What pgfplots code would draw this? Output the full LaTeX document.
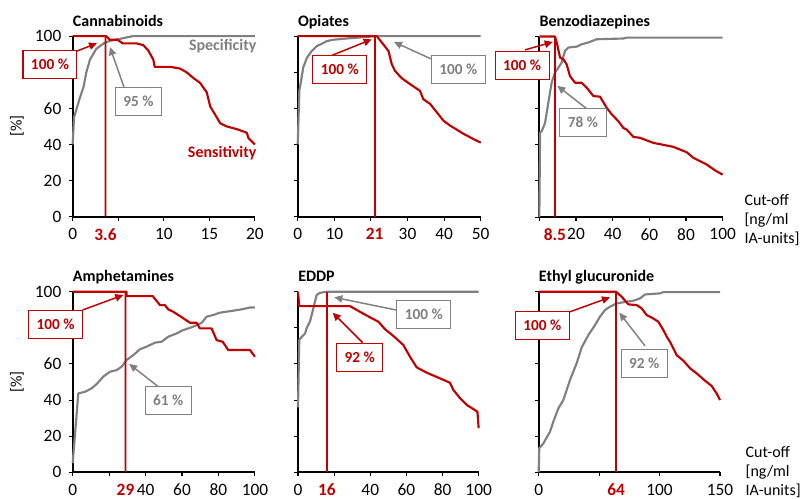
\documentclass[border=0pt]{standalone}
\usepackage{fontspec}
\setmainfont{Carlito}
\usepackage{pgfplots}
\pgfplotsset{compat=1.18}
\usetikzlibrary{arrows.meta}
\definecolor{cred}{RGB}{192,0,0}
\definecolor{cgray}{RGB}{128,128,128}
\pgfplotsset{
  panel/.style={
    scale only axis, height=135.4pt,
    anchor=south west,
    axis x line*=bottom, axis y line*=left,
    axis line style={-, line width=1.3pt, black},
    ymin=0, ymax=100, ytick={0,20,40,60,80,100},
    tick align=outside, major tick length=3pt,
    every tick/.style={black, line width=0.8pt},
    tick label style={font=\fontsize{13}{15}\selectfont},
    every x tick label/.append style={inner sep=0.5pt, yshift=-5pt},
    every y tick label/.append style={xshift=-2pt},
    /pgf/number format/assume math mode=true,
    clip=false,
  },
  leftpanel/.style={ytick={0,20,40,60,100}, extra y ticks={80}, extra y tick labels={}, extra y tick style={grid=none}},
  sens/.style={draw=cred, line width=1.6pt, no markers, line join=round},
  spec/.style={draw=cgray, line width=1.6pt, no markers, line join=round},
  cutline/.style={draw=cred, line width=1.4pt, no markers},
  cutfill/.style={fill=cred, draw=none, no markers},
}
\tikzset{
  rbox/.style={draw=cred, fill=white, text=cred, font=\fontsize{11.5}{13}\selectfont\bfseries, line width=0.8pt, minimum height=21pt, inner xsep=6pt, inner ysep=0pt},
  gbox/.style={draw=cgray, fill=white, text=cgray, font=\fontsize{11.5}{13}\selectfont\bfseries, line width=0.8pt, minimum height=21pt, inner xsep=6pt, inner ysep=0pt},
  rarr/.style={-{Triangle[length=6pt,width=5.5pt]}, cred, line width=1.1pt},
  garr/.style={-{Triangle[length=6pt,width=5.5pt]}, cgray, line width=1.1pt},
  ttl/.style={anchor=base west, inner sep=0pt, font=\fontsize{12}{14}\selectfont\bfseries, yshift=7.5pt},
  ylab/.style={rotate=90, inner sep=0pt, font=\fontsize{12}{14}\selectfont},
  cutoff/.style={anchor=west, align=left, inner sep=0pt, font=\fontsize{12}{14.25}\selectfont},
  cutlab/.style={anchor=north, inner sep=0.5pt, text=cred, font=\fontsize{13}{15}\selectfont\bfseries},
}
\begin{document}
\begin{tikzpicture}
\path[use as bounding box] (0pt,0pt) rectangle (600pt,-374.25pt);
\node[ylab] at (12.75pt,-94.7pt) {[\%]};
\node[ylab] at (12.75pt,-286.5pt) {[\%]};
% ---------------- Cannabinoids
\begin{axis}[panel, leftpanel, width=136.7pt, at={(54.5pt,-162.5pt)},
  xmin=0, xmax=20, xtick={0,5,10,15,20}, xticklabels={0,,10,15,20}]
\addplot[spec] coordinates {(0,40)(0.15,55)(0.8,66)(1.2,72)(1.5,80)(1.9,87)(2.6,93)(3.4,96)(4.1,97.4)(5.2,98.5)(6.6,100)(20,100)};
\addplot[sens] coordinates {(0,100)(3.66,100)(4.1,98)(4.9,98)(5.5,96)(7.0,96)(7.75,95)(8.3,92)(8.85,87)(9.0,83)(10.7,83)(11.8,82)(12.5,80)(13.2,77)(14.0,74)(14.4,71)(14.7,69)(15.1,61)(16.2,51.7)(16.9,50)(18,48.5)(19.1,46.5)(19.3,43.4)(20,40)};
\addplot[cutfill] coordinates {(3.5,0)(3.7,0)(3.7,100.4)(3.5,100.4)(3.5,0)};
\draw[rarr] (axis cs:0.47,91.7) -- (axis cs:2.67,96.1);
\draw[garr] (axis cs:5.63,71.8) -- (axis cs:4.09,93.9);
\node[rbox] at (axis cs:-2.49,84.5) {100 \%};
\node[gbox] at (axis cs:7.22,64.0) {95 \%};
\node[anchor=east, inner sep=0pt, text=cgray, font=\fontsize{12}{14}\selectfont\bfseries] at (axis cs:20.2,94.5) {Specificity};
\node[anchor=east, inner sep=0pt, text=cred, font=\fontsize{12}{14}\selectfont\bfseries] at (axis cs:20.2,35.3) {Sensitivity};
\node[ttl] at (rel axis cs:0,1) {Cannabinoids};
\node[cutlab] at ([yshift=-8pt]axis cs:3.6,0) {3.6};
\end{axis}
% ---------------- Opiates
\begin{axis}[panel, width=137.25pt, at={(223.3pt,-162.5pt)},
  xmin=0, xmax=50, xtick={0,10,20,30,40,50}, xticklabels={0,10,,30,40,50},
  yticklabels={}]
\addplot[spec] coordinates {(0,40)(0.45,70)(0.9,75)(1.5,82.6)(2.5,88)(3.8,91.7)(5.2,94.5)(6.6,95.8)(7.9,97.2)(9.7,98)(13.4,98.7)(17.9,99.4)(21.6,100)(50,100)};
\addplot[sens] coordinates {(0,100)(21.6,100)(23.4,95.4)(24.8,91.7)(25.7,84.4)(26.6,80.7)(28.4,76.7)(30.7,73.4)(33.4,69.7)(34.3,65.1)(36.2,62.4)(38,57.8)(39.8,53.2)(41.6,50.5)(45.3,45.9)(47.9,43.1)(50,41)};
\addplot[cutline] coordinates {(21,0)(21,100)};
\draw[rarr] (axis cs:9.3,89.3) -- (axis cs:20.2,98.2);
\draw[garr] (axis cs:36.4,87.4) -- (axis cs:26.3,96.8);
\node[rbox] at (axis cs:11.5,81.6) {100 \%};
\node[gbox] at (axis cs:43.9,81.6) {100 \%};
\node[ttl] at (rel axis cs:0,1) {Opiates};
\node[cutlab] at ([yshift=-8pt]axis cs:21,0) {21};
\end{axis}
% ---------------- Benzodiazepines
\begin{axis}[panel, width=137.5pt, at={(404.5pt,-162.8pt)},
  xmin=0, xmax=100, xtick={0,20,40,60,80,100}, xticklabels={,20,40,60,80,100},
  yticklabels={}]
\addplot[spec] coordinates {(0,0)(0.4,46.7)(1.3,47.6)(3.1,52)(4.9,63.3)(5.8,68.9)(6.7,74.4)(8.5,80)(10.4,82.8)(12.2,85.6)(14,92)(15.8,93.9)(20.4,94.4)(23.1,95.7)(26.7,96.7)(31.3,98.5)(45.8,98.9)(47.6,99.4)(100,99.4)};
\addplot[sens] coordinates {(0,100)(8.5,100)(9.5,96.7)(11.3,88.3)(13.1,87.4)(14.9,84.6)(16.7,78.1)(19.5,74.4)(23.1,74.4)(25.8,71.7)(29.5,67)(33.1,66.7)(36.7,60.6)(39.5,56.9)(43.1,53.1)(45.8,49.4)(47.6,48.5)(51.3,44.4)(54.9,43.9)(62.2,41.1)(73.1,38.9)(80.4,35.9)(84,32.8)(91.3,29.1)(95.8,25.9)(100,23.5)};
\addplot[cutline] coordinates {(8.5,0)(8.5,100)};
\draw[rarr] (axis cs:-7.8,92.6) -- (axis cs:7.3,97);
\draw[garr] (axis cs:25.5,60.3) -- (axis cs:9.8,72.7);
\node[rbox] at (axis cs:-9.4,84) {100 \%};
\node[gbox] at (axis cs:23.8,52.6) {78 \%};
\node[ttl] at (rel axis cs:0,1) {Benzodiazepines};
\node[cutlab] at ([yshift=-8pt]axis cs:8.5,0) {8.5};
\node[cutoff] at ([xshift=16.2pt, yshift=-2.3pt]rel axis cs:1,0) {Cut-off\\{}[ng/ml\\IA-units]};
\end{axis}
% ---------------- Amphetamines
\begin{axis}[panel, leftpanel, width=136.7pt, at={(54.5pt,-354.2pt)},
  xmin=0, xmax=100, xtick={0,20,40,60,80,100}, xticklabels={0,,40,60,80,100}]
\addplot[spec] coordinates {(0,5)(3.1,43.7)(6.8,44.6)(10.4,46.5)(13.2,48.9)(16.8,53)(20.5,55.7)(24.1,56.6)(26.9,58.5)(29.6,62.2)(33.3,64.9)(36.9,68.1)(40.6,69.6)(45.2,71.8)(48.8,72.3)(52.5,75.1)(57,76.9)(60.7,78.8)(65.3,80.3)(70.8,82.8)(73.5,86.2)(77.1,87.1)(80.8,88.4)(88.1,89.5)(93.6,90.4)(97.3,91.3)(100,91.3)};
\addplot[sens] coordinates {(0,100)(29.6,100)(29.6,97.6)(43.9,97.6)(47.9,92.6)(50.6,92.6)(52.5,90.2)(55.2,88.9)(58.9,86.5)(61.6,84.7)(64.4,82.8)(68,82.8)(69.8,79.7)(76.2,79.7)(79,73.2)(82.3,72.3)(85.4,67.7)(97.3,67.7)(100,64)};
\addplot[cutfill] coordinates {(28.5,0)(29.5,0)(29.5,100.4)(28.5,100.4)(28.5,0)};
\draw[rarr] (axis cs:5.5,89.9) -- (axis cs:27.8,98.2);
\draw[garr] (axis cs:47,47.4) -- (axis cs:31,60);
\node[rbox] at (axis cs:-9.4,81.8) {100 \%};
\node[gbox] at (axis cs:52.4,40) {61 \%};
\node[ttl] at (rel axis cs:0,1) {Amphetamines};
\node[cutlab] at ([yshift=-8pt]axis cs:29,0) {29};
\end{axis}
% ---------------- EDDP
\begin{axis}[panel, width=135.5pt, at={(223.5pt,-354.2pt)},
  xmin=0, xmax=100, xtick={0,20,40,60,80,100}, xticklabels={0,,40,60,80,100},
  yticklabels={}]
\addplot[spec] coordinates {(0,36)(0.7,73.2)(2,75)(3.9,76.8)(4.8,79.9)(6.6,83.4)(8.5,90.8)(10.3,98.2)(12.2,99.4)(15.9,100)(100,100)};
\addplot[sens] coordinates {(0,100)(0.7,92)(28.8,92)(34.3,88.9)(39.9,85.8)(44.5,83.4)(48.2,79.2)(52.8,75.5)(58.3,70.5)(62,64)(65.7,58.1)(71.2,55.2)(78.6,52)(84.1,49.6)(86,45.6)(89.7,41)(93.4,37.3)(99.3,33.6)(100,24.4)};
\addplot[cutline] coordinates {(16,0)(16,100)};
\draw[garr] (axis cs:54.2,89.9) -- (axis cs:20.1,96.9);
\draw[rarr] (axis cs:35.8,71.8) -- (axis cs:19.2,88.4);
\node[gbox] at (axis cs:69.6,87.5) {100 \%};
\node[rbox] at (axis cs:34.1,63.6) {92 \%};
\node[ttl] at (rel axis cs:0,1) {EDDP};
\node[cutlab] at ([yshift=-8pt]axis cs:16,0) {16};
\end{axis}
% ---------------- Ethyl glucuronide
\begin{axis}[panel, width=136pt, at={(404pt,-354.2pt)},
  xmin=0, xmax=150, xtick={0,50,100,150}, xticklabels={0,,100,150},
  yticklabels={}]
\addplot[spec] coordinates {(0,0)(0.5,13.3)(3.9,16)(9.4,22.5)(12.1,28)(16.3,35.4)(20.4,40)(25.9,51.1)(31.4,60.3)(35.6,69.2)(41.1,76)(46.6,81.5)(50.7,86.2)(54.9,89.9)(59,91.7)(64.5,93.5)(72.8,94.5)(78.3,95)(83.8,96.3)(88,98.5)(100.4,99.1)(103.1,99.8)(150,99.8)};
\addplot[sens] coordinates {(0,100)(64,100)(68.7,97.2)(74.2,93)(81.1,92.6)(85.2,90.8)(89.3,87.1)(94.8,85.2)(99,83.4)(103.1,78.8)(105.9,75.1)(108.6,72.3)(111.4,68.6)(114.1,64.9)(119.7,61.8)(125.2,57.6)(130.7,54.8)(136.2,51.5)(143.1,47.8)(147.2,43.7)(150,40)};
\addplot[cutline] coordinates {(64,0)(64,100)};
\draw[rarr] (axis cs:25.9,88.9) -- (axis cs:59,96.9);
\draw[garr] (axis cs:88,70) -- (axis cs:66.7,88.4);
\node[rbox] at (axis cs:3.1,81.4) {100 \%};
\node[gbox] at (axis cs:87.3,60.4) {92 \%};
\node[ttl] at (rel axis cs:0,1) {Ethyl glucuronide};
\node[cutlab] at ([yshift=-8pt]axis cs:64,0) {64};
\node[cutoff] at ([xshift=19pt]rel axis cs:1,0) {Cut-off\\{}[ng/ml\\IA-units]};
\end{axis}
\end{tikzpicture}
\end{document}
